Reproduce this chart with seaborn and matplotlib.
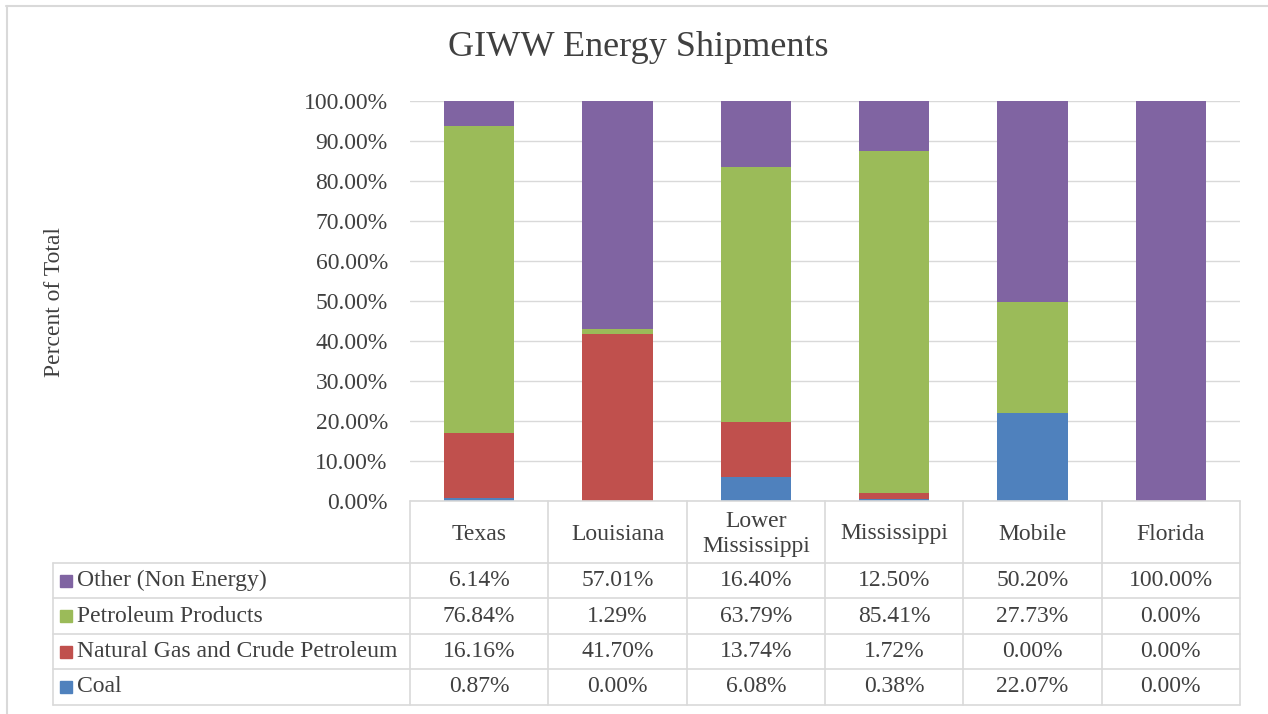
import numpy as np
import pandas as pd
import seaborn as sns
import matplotlib.pyplot as plt

regions = ["Texas", "Louisiana", "Lower\nMississippi", "Mississippi", "Mobile", "Florida"]
coal = [0.87, 0.00, 6.08, 0.38, 22.07, 0.00]
gas_crude = [16.16, 41.70, 13.74, 1.72, 0.00, 0.00]
petroleum = [76.84, 1.29, 63.79, 85.41, 27.73, 0.00]
other = [6.14, 57.01, 16.40, 12.50, 50.20, 100.00]

series_names = ["Other (Non Energy)", "Petroleum Products",
                "Natural Gas and Crude Petroleum", "Coal"]
series_vals = [other, petroleum, gas_crude, coal]
colors = ["#8064A2", "#9BBB59", "#C0504D", "#4F81BD"]

sns.set_theme(style="white")
plt.rcParams["font.family"] = ["Liberation Serif", "DejaVu Serif"]

W, H = 1268, 714
fs = 17
txt = "#404040"
fig = plt.figure(figsize=(W / 100, H / 100), dpi=100)

# plot area in pixels
x0, x1, y_top, y_bot = 410, 1240, 101, 501
ax = fig.add_axes([x0 / W, 1 - y_bot / H, (x1 - x0) / W, (y_bot - y_top) / H])

df = pd.DataFrame({"region": regions, "coal": coal, "gas": gas_crude,
                   "pet": petroleum, "other": other})
# stacked bars drawn as overlapping cumulative totals
layers = [
    (df["coal"] + df["gas"] + df["pet"] + df["other"], colors[0]),
    (df["coal"] + df["gas"] + df["pet"], colors[1]),
    (df["coal"] + df["gas"], colors[2]),
    (df["coal"], colors[3]),
]
for cum, c in layers:
    sns.barplot(x=df["region"], y=cum, color=c, width=0.51, ax=ax,
                saturation=1, linewidth=0)

ax.set_xlim(-0.5, len(regions) - 0.5)
ax.set_ylim(0, 100)
ticks = np.arange(0, 101, 10)
ax.set_yticks(ticks)
ax.set_yticklabels([f"{v:.2f}%" for v in ticks], fontsize=fs, color=txt)
ax.tick_params(axis="y", length=0, pad=16)
ax.set_xticks([])
ax.set_xlabel("")
ax.set_ylabel("")
ax.yaxis.grid(True, color="#D9D9D9", linewidth=1)
ax.set_axisbelow(True)
for s in ax.spines.values():
    s.set_visible(False)

fig.text(638 / W, 1 - 48 / H, "GIWW Energy Shipments", ha="center", va="center",
         fontsize=26, color=txt)
fig.text(55 / W, 1 - 302 / H, "Percent of Total", rotation=90, ha="center",
         va="center", fontsize=fs, color=txt)

# data table drawn on an overlay axes in pixel coordinates
tb = fig.add_axes([0, 0, 1, 1])
tb.set_xlim(0, W)
tb.set_ylim(H, 0)
tb.axis("off")
lc = "#D9D9D9"
col_w = (x1 - x0) / len(regions)
col_edges = [x0 + i * col_w for i in range(len(regions) + 1)]
row_edges = [563, 598, 634, 669, 705]
lx = 53

tb.plot([x0, x1], [y_bot, y_bot], color=lc, lw=1.2)
for xe in col_edges:
    tb.plot([xe, xe], [y_bot, row_edges[-1]], color=lc, lw=1.2)
for ye in row_edges:
    tb.plot([lx, x1], [ye, ye], color=lc, lw=1.2)
tb.plot([lx, lx], [row_edges[0], row_edges[-1]], color=lc, lw=1.2)

for i, r in enumerate(regions):
    tb.text((col_edges[i] + col_edges[i + 1]) / 2, (y_bot + row_edges[0]) / 2 + 2, r,
            ha="center", va="center", fontsize=fs, color=txt, linespacing=1.2)

for j, (name, vals, c) in enumerate(zip(series_names, series_vals, colors)):
    yc = (row_edges[j] + row_edges[j + 1]) / 2
    tb.add_patch(plt.Rectangle((60, yc - 6), 12, 12, color=c))
    tb.text(77, yc, name, ha="left", va="center", fontsize=fs, color=txt)
    for i, v in enumerate(vals):
        tb.text((col_edges[i] + col_edges[i + 1]) / 2, yc, f"{v:.2f}%",
                ha="center", va="center", fontsize=fs, color=txt)

# chart border: only left and top edges are visible
tb.plot([6.5, 6.5], [6, H], color=lc, lw=1.5)
tb.plot([6, W], [6, 6], color=lc, lw=1.5)

fig.savefig("out.png", dpi=100)
